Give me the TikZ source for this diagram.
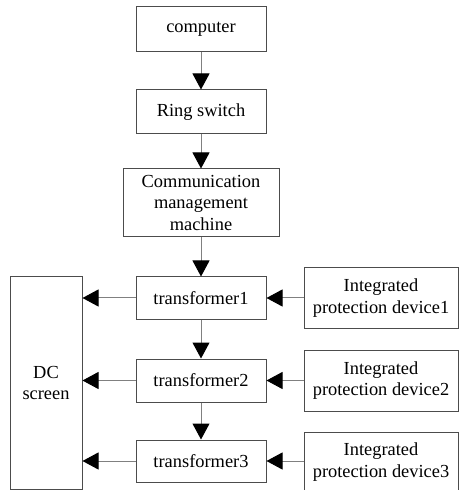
\documentclass[tikz,border=0pt]{standalone}
\usepackage{fontspec}
\setmainfont{Liberation Serif}
\usepackage{tikz}
\usetikzlibrary{arrows.meta}

\tikzset{
	box/.style={draw=black!70, rectangle, align=center, inner sep=1pt, line width=0.5pt, font=\fontsize{9.2}{10.9}\selectfont},
	link/.style={draw=black!50, line width=0.5pt, -{Triangle[length=8pt, width=8.5pt, black]}}
}

\begin{document}
\begin{tikzpicture}[x=0.5pt, y=-0.5pt]
	\useasboundingbox (0,0) rectangle (459,490); % Rand wie Vorlage
	
	% mittlere Spalte
	\node[box, minimum width=65pt, minimum height=22.5pt] (computer) at (201,29.5) {computer};
	\node[box, minimum width=65pt, minimum height=22pt] (ring) at (201,112) {Ring switch};
	\node[box, minimum width=78pt, minimum height=34pt] (comm) at (201,203) {Communication\\management\\machine};
	\node[box, minimum width=65pt, minimum height=21pt] (trafo1) at (201,298) {transformer1};
	\node[box, minimum width=65pt, minimum height=21.5pt] (trafo2) at (201,380.5) {transformer2};
	\node[box, minimum width=65pt, minimum height=21pt] (trafo3) at (201,461) {transformer3};
	
	% linke Spalte
	\node[box, minimum width=36pt, minimum height=106pt] (dc) at (46,383) {DC\\screen};
	
	% rechte Spalte
	\node[box, minimum width=77pt, minimum height=30pt] (ipd1) at (381,298) {Integrated\\protection device1};
	\node[box, minimum width=77pt, minimum height=30.5pt] (ipd2) at (381,380.5) {Integrated\\protection device2};
	\node[box, minimum width=77pt, minimum height=30pt] (ipd3) at (381,462) {Integrated\\protection device3};
	
	% Pfeile
	\draw[link] (computer) -- (ring);
	\draw[link] (ring) -- (comm);
	\draw[link] (comm) -- (trafo1);
	\draw[link] (trafo1) -- (trafo2);
	\draw[link] (trafo2) -- (trafo3);
	
	\draw[link] (ipd1) -- (trafo1);
	\draw[link] (ipd2) -- (trafo2);
	\draw[link] (ipd3.west |- trafo3.east) -- (trafo3.east);
	
	\draw[link] (trafo1.west) -- (dc.east |- trafo1.west);
	\draw[link] (trafo2.west) -- (dc.east |- trafo2.west);
	\draw[link] (trafo3.west) -- (dc.east |- trafo3.west);
	
	%\draw[help lines, step=50] (0,0) grid (459,490);
\end{tikzpicture}
\end{document}
